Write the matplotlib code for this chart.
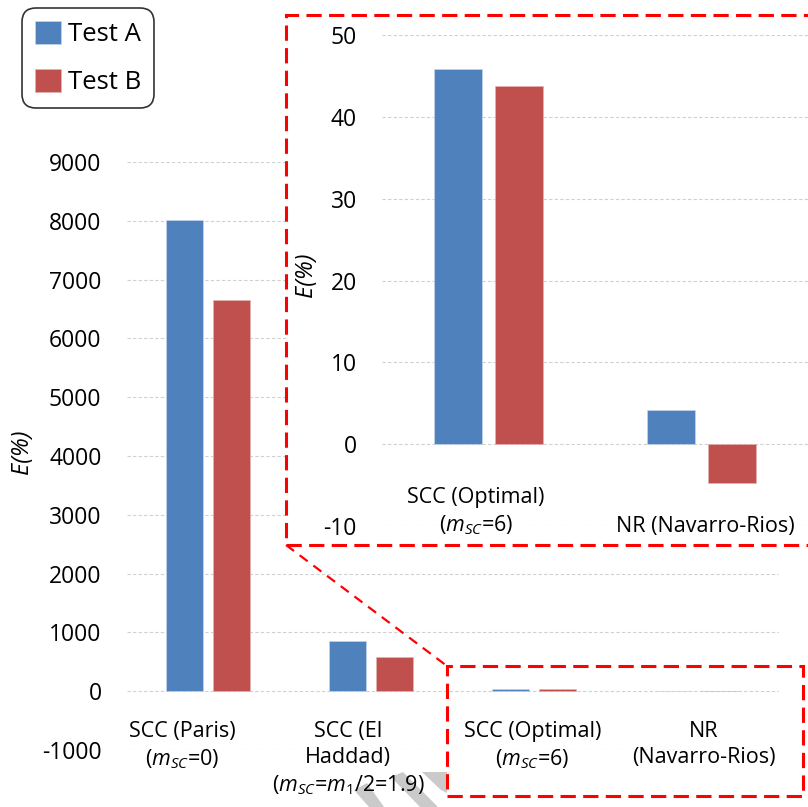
import numpy as np
import matplotlib
matplotlib.use("Agg")
import matplotlib.pyplot as plt
from matplotlib.patches import Rectangle, Polygon
from matplotlib.lines import Line2D
import matplotlib.transforms as mtransforms

plt.rcParams['font.family'] = ['Open Sans', 'DejaVu Sans']
plt.rcParams['mathtext.fontset'] = 'custom'
plt.rcParams['mathtext.rm'] = 'Open Sans'
plt.rcParams['mathtext.it'] = 'Open Sans:italic'
plt.rcParams['mathtext.bf'] = 'Open Sans:bold'

# ---------------- data ----------------
main_categories = [
    "SCC (Paris)\n($m_{SC}$=$\\mathit{0}$)",
    "SCC (El\nHaddad)\n($m_{SC}$=$m_{\\mathit{1}}$/$\\mathit{2}$=$\\mathit{1.9}$)",
    "SCC (Optimal)\n($m_{SC}$=$\\mathit{6}$)",
    "NR\n(Navarro-Rios)",
]
inset_categories = [
    "SCC (Optimal)\n($m_{SC}$=$\\mathit{6}$)",
    "NR (Navarro-Rios)",
]
test_a_main = [8020, 850, 45.8, 4.2]
test_b_main = [6650, 590, 43.8, -4.8]
test_a_inset = [45.8, 4.2]
test_b_inset = [43.8, -4.8]
main_yticks = list(range(-1000, 9001, 1000))
inset_yticks = list(range(-10, 51, 10))
series_names = ["Test A", "Test B"]

BLUE = "#4f81bd"
RED = "#c0504d"
GRID = "#d0d0d0"

W, H = 808, 807
fig = plt.figure(figsize=(W / 100, H / 100), dpi=100)


def fx(x):
    return x / W


def fy(y):
    return 1 - y / H


# ---------------- main axes ----------------
ax = fig.add_axes([fx(126.5), fy(750), (778.5 - 126.5) / W, (750 - 162) / H])
ax.set_zorder(0)
x = np.arange(len(main_categories))
bw = 0.227
off = 0.144
ax.bar(x - off, test_a_main, bw, color=BLUE, label=series_names[0], zorder=3,
       edgecolor="#c6d5ea", linewidth=0.5)
ax.bar(x + off, test_b_main, bw, color=RED, label=series_names[1], zorder=3,
       edgecolor="#e3b4b3", linewidth=0.5)
ax.set_xlim(-0.5, len(main_categories) - 0.5)
ax.set_ylim(-1000, 9000)
ax.set_yticks(main_yticks)
ax.set_yticklabels([str(v) for v in main_yticks], fontsize=16.5)
ax.tick_params(axis='y', length=0, pad=18)
ax.set_xticks([])
for s in ax.spines.values():
    s.set_visible(False)
ax.yaxis.grid(True, color=GRID, linestyle=(0, (3, 2)), linewidth=0.8)
ax.set_axisbelow(True)
ax.set_ylabel("E(%)", fontsize=17, fontstyle='italic')
ax.yaxis.set_label_coords((34 - 126.5) / (778.5 - 126.5), (750 - 452) / 588)

label_nudge = [-0.16, -0.14, -0.01, 0.04]
trans = mtransforms.blended_transform_factory(ax.transData, ax.transAxes)
for i, lab in enumerate(main_categories):
    ax.text(x[i] + label_nudge[i], (750 - 721) / 588, lab, transform=trans,
            ha='center', va='top', fontsize=15.5, linespacing=1.3,
            multialignment='center', zorder=6)

# gray striped arrow (decoration, mostly hidden behind labels)
for poly in [
    [(354, 790), (367, 783), (384, 807), (369, 807)],
    [(391, 777), (403, 772), (438, 807), (420, 807)],
    [(422, 772), (447, 772), (447, 793), (441, 790)],
]:
    ax.add_patch(Polygon([(fx(a), fy(b)) for a, b in poly], closed=True,
                         transform=fig.transFigure, facecolor="#cacaca",
                         edgecolor='none', zorder=1, clip_on=False))

# ---------------- inset box and connectors ----------------
fig.patches.append(Rectangle((fx(286), fy(545)), fx(830) - fx(286), (545 - 15) / H,
                             transform=fig.transFigure, facecolor='white',
                             edgecolor='#ff0000', linewidth=2.2,
                             linestyle=(0, (5.0, 2.4)), zorder=1))
fig.patches.append(Rectangle((fx(447), fy(796)), fx(803) - fx(447), (796 - 666) / H,
                             transform=fig.transFigure, facecolor='none',
                             edgecolor='#ff0000', linewidth=2.2,
                             linestyle=(0, (5.0, 2.4)), zorder=1))
fig.lines.append(Line2D([fx(286), fx(447)], [fy(545), fy(666)],
                        transform=fig.transFigure, color='#ff0000',
                        linewidth=1.6, linestyle=(0, (4.5, 3.2)), zorder=1))

# ---------------- inset axes ----------------
ax2 = fig.add_axes([fx(382), fy(526), (808 - 382) / W, (526 - 35) / H])
ax2.set_zorder(2)
ax2.set_facecolor('none')
xi = np.arange(len(inset_categories))
ax2.bar(xi - off, test_a_inset, bw, color=BLUE, zorder=3,
        edgecolor="#c6d5ea", linewidth=0.5)
ax2.bar(xi + off, test_b_inset, bw, color=RED, zorder=3,
        edgecolor="#e3b4b3", linewidth=0.5)
ax2.set_xlim(-0.5, len(inset_categories) - 0.5)
ax2.set_ylim(-10, 50)
ax2.set_yticks(inset_yticks)
ax2.set_yticklabels([str(v) for v in inset_yticks], fontsize=16.5)
ax2.tick_params(axis='y', length=0, pad=18)
ax2.set_xticks([])
for s in ax2.spines.values():
    s.set_visible(False)
ax2.yaxis.grid(True, color=GRID, linestyle=(0, (3, 2)), linewidth=0.8)
ax2.set_axisbelow(True)
ax2.set_ylabel("E(%)", fontsize=17, fontstyle='italic')
ax2.yaxis.set_label_coords((318 - 382) / 426, (526 - 275) / 491)
trans2 = mtransforms.blended_transform_factory(ax2.transData, ax2.transAxes)
inset_nudge = [-0.06, 0.02]
for i, lab in enumerate(inset_categories):
    ax2.text(xi[i] + inset_nudge[i], (526 - 537) / 491, lab, transform=trans2,
             ha='center', va='bottom', fontsize=15.5, linespacing=1.3,
             multialignment='center')

# ---------------- legend ----------------
handles, labels = ax.get_legend_handles_labels()
leg = fig.legend(handles, labels, loc='upper left',
                 bbox_to_anchor=(fx(22), fy(8)), borderaxespad=0,
                 fontsize=18.5, handlelength=1.0, handleheight=1.0,
                 handletextpad=0.3, labelspacing=0.85, borderpad=0.5,
                 frameon=True, fancybox=True)
fr = leg.get_frame()
fr.set_edgecolor('black')
fr.set_linewidth(1.2)
fr.set_boxstyle('round,pad=0,rounding_size=0.55')
leg.set_zorder(10)

fig.savefig("out.png", dpi=100)
